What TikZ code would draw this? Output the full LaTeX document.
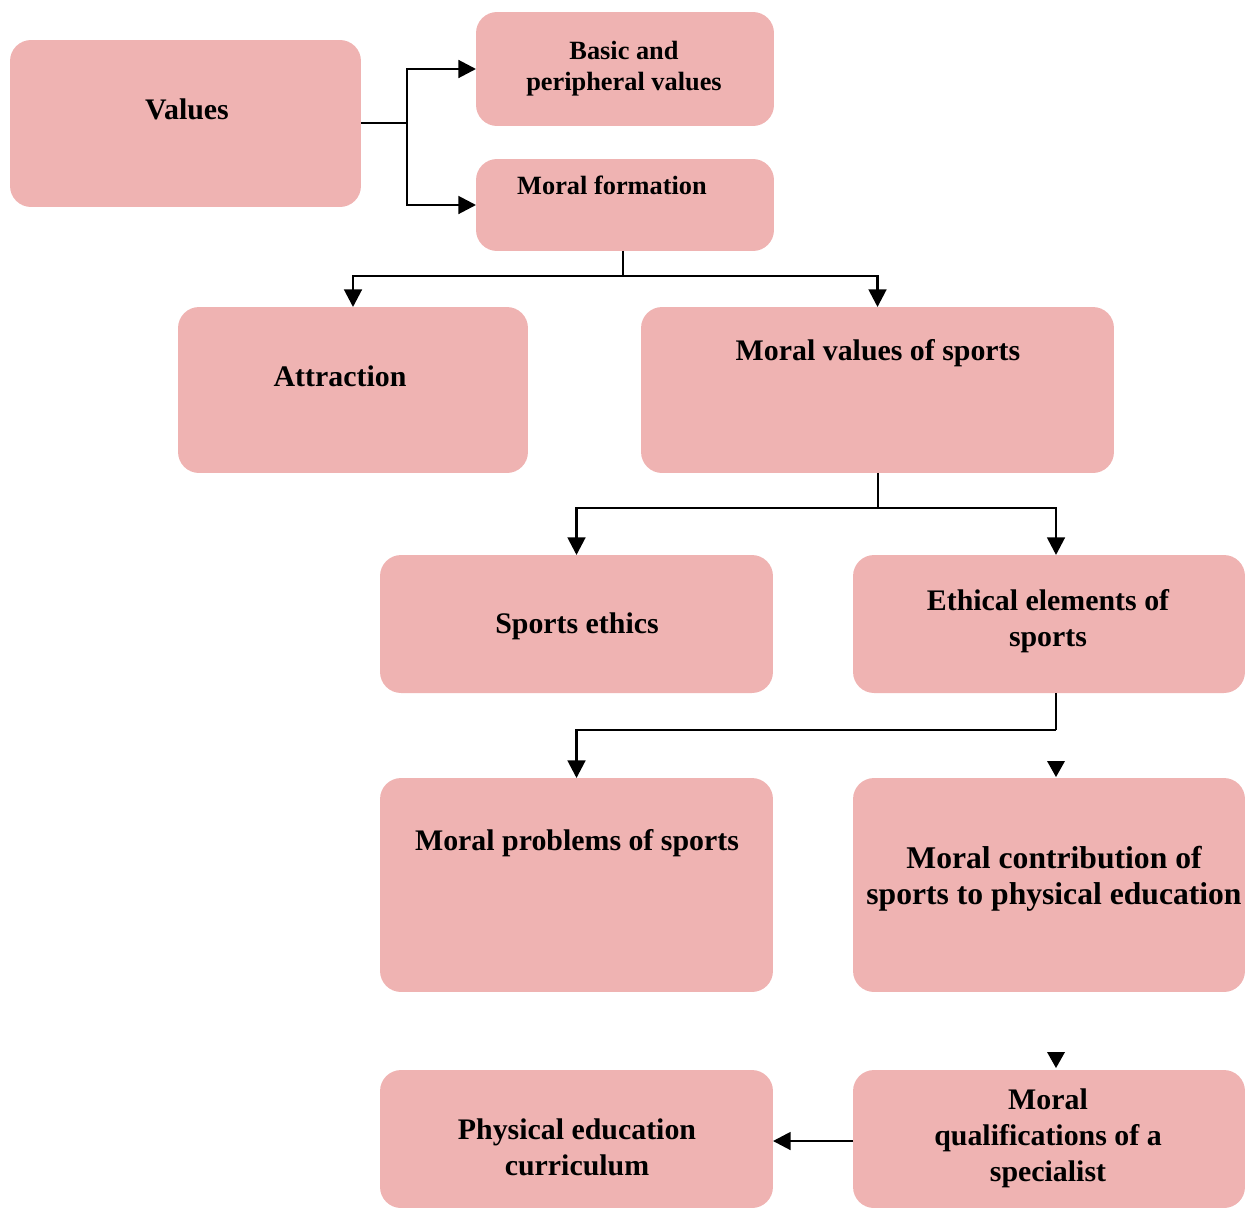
\documentclass[tikz,border=0pt]{standalone}
\usepackage{fontspec}
\setmainfont{Liberation Serif}
\usetikzlibrary{arrows.meta}
\definecolor{boxpink}{HTML}{EFB3B2}
\tikzset{
  box/.style={fill=boxpink, draw=none, rounded corners=0.42cm, inner sep=0pt, outer sep=0pt},
  lbl/.style={font=\bfseries\fontsize{17}{20.5}\selectfont, align=center, inner sep=0pt},
  lblbig/.style={font=\bfseries\fontsize{18}{20.5}\selectfont, align=center, inner sep=0pt},
  lblsmall/.style={font=\bfseries\fontsize{15}{17.6}\selectfont, align=center, inner sep=0pt},
  conn/.style={line width=1.6pt, -{Triangle[length=10pt,width=10pt]}},
  plain/.style={line width=1.6pt},
  tip/.style={fill=black, draw=none}
}
\begin{document}
\begin{tikzpicture}[x=0.02cm,y=-0.02cm]
\useasboundingbox (0,0) rectangle (1246,1207);
% boxes
\node[box, minimum width=7.02cm, minimum height=3.34cm] (values) at (185.5,123.5) {};
\node[box, minimum width=5.96cm, minimum height=2.28cm] (basic) at (625,69) {};
\node[box, minimum width=5.96cm, minimum height=1.84cm] (mform) at (625,205) {};
\node[box, minimum width=7.00cm, minimum height=3.32cm] (attr) at (353,390) {};
\node[box, minimum width=9.46cm, minimum height=3.32cm] (mvs) at (877.5,390) {};
\node[box, minimum width=7.86cm, minimum height=2.76cm] (sethics) at (576.5,624) {};
\node[box, minimum width=7.84cm, minimum height=2.76cm] (ethel) at (1049,624) {};
\node[box, minimum width=7.86cm, minimum height=4.28cm] (mprob) at (576.5,885) {};
\node[box, minimum width=7.84cm, minimum height=4.28cm] (mcontr) at (1049,885) {};
\node[box, minimum width=7.86cm, minimum height=2.76cm] (pecurr) at (576.5,1139) {};
\node[box, minimum width=7.84cm, minimum height=2.76cm] (mqual) at (1049,1139) {};
% texts
\node[lbl] (tvalues) at (187,109) {Values};
\node[lblsmall] (tbasic) at (624,69) {Basic and\\peripheral values};
\node[lblsmall] (tmform) at (612,185) {Moral formation};
\node[lbl] (tattr) at (340,376) {Attraction};
\node[lbl] (tmvs) at (878,353) {Moral values of sports};
\node[lbl] (tsethics) at (577,626) {Sports ethics};
\node[lbl] (tethel) at (1048,621) {Ethical elements of\\sports};
\node[lbl] (tmprob) at (577,843) {Moral problems of sports};
\node[lblbig] (tmcontr) at (1054,879) {Moral contribution of\\sports to physical education};
\node[lbl] (tpecurr) at (577,1147) {Physical education\\curriculum};
\node[lbl] (tmqual) at (1048,1138) {Moral\\qualifications of a\\specialist};
% connectors
\coordinate (j1) at (407,123);
\draw[plain] (values.east |- j1) -- (j1);
\draw[conn] (j1) |- (basic.west);
\draw[conn] (j1) |- (mform.west);
\coordinate (j2) at (623,276);
\draw[plain] (mform.south -| j2) -- (j2);
\draw[conn] (j2) -| (attr.north);
\draw[conn] (j2) -| (mvs.north);
\coordinate (j3) at (878,508);
\draw[plain] (mvs.south -| j3) -- (j3);
\draw[conn] (j3) -| (sethics.north);
\coordinate (e1) at (1056,555);
\draw[conn] (j3) -| (e1);
\coordinate (j4) at (1056,730);
\coordinate (e2) at (1056,693);
\draw[plain] (e2) -- (j4);
\draw[conn] (j4) -| (mprob.north);
\draw[conn] (mqual.west |- 0,1141) -- (pecurr.east |- 0,1141);
% lone arrowheads
\coordinate (a1) at (1056,777);
\coordinate (a2) at (1056,1068);
\fill[tip] (a1) -- ++(-9,-16) -- ++(18,0) -- cycle;
\fill[tip] (a2) -- ++(-9,-16) -- ++(18,0) -- cycle;
\end{tikzpicture}
\end{document}
